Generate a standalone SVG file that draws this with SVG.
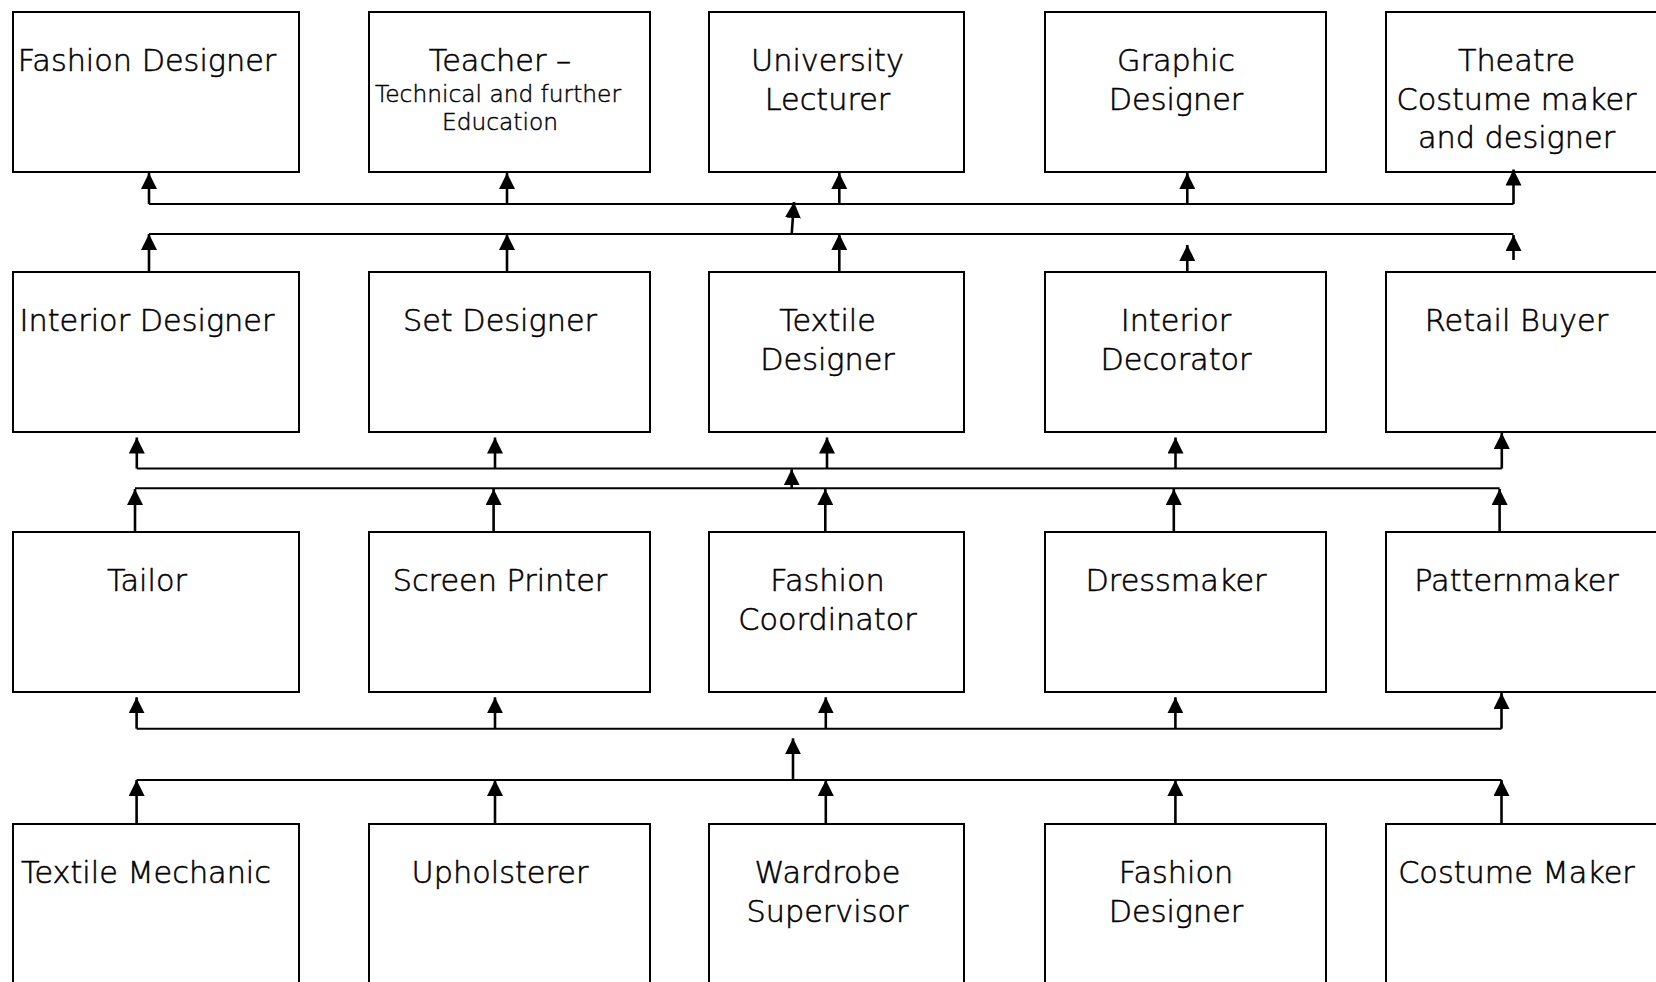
<svg xmlns="http://www.w3.org/2000/svg" width="1656" height="982" viewBox="0 0 1656 982">
<style>
.box{fill:#fff;stroke:#000;stroke-width:2}
.t{font-family:"Century Gothic","DejaVu Sans","Liberation Sans",sans-serif;font-size:30.3px;font-weight:300;fill:#000;stroke:#000;stroke-width:0.55;text-anchor:middle}
.s{font-size:23.3px;stroke-width:0.45}
.ln{fill:none;stroke:#000;stroke-width:2}
.ar{fill:none;stroke:#000;stroke-width:2.6;marker-end:url(#ah)}
</style>
<defs>
<marker id="ah" markerUnits="userSpaceOnUse" markerWidth="16" markerHeight="16" refX="15" refY="7.5" orient="auto" viewBox="0 0 15 15">
<path d="M0,0 L15,7.5 L0,15 z" fill="#000"/>
</marker>
</defs>
<rect width="1656" height="982" fill="#fff"/>

<g id="n-fashion-designer-top"><rect class="box" x="13" y="12" width="286" height="160"/><text class="t" x="147" y="71">Fashion Designer</text></g>
<g id="n-teacher"><rect class="box" x="369" y="12" width="281" height="160"/><text class="t" x="500" y="71">Teacher –</text><text class="t s" x="498" y="101.5">Technical and further</text><text class="t s" x="500" y="130">Education</text></g>
<g id="n-university-lecturer"><rect class="box" x="709" y="12" width="255" height="160"/><text class="t" x="827.5" y="71">University</text><text class="t" x="827.5" y="110">Lecturer</text></g>
<g id="n-graphic-designer"><rect class="box" x="1045" y="12" width="281" height="160"/><text class="t" x="1176" y="71">Graphic</text><text class="t" x="1176" y="110">Designer</text></g>
<g id="n-theatre"><rect class="box" x="1386" y="12" width="300" height="160"/><text class="t" x="1516.5" y="71">Theatre</text><text class="t" x="1516.5" y="110">Costume maker</text><text class="t" x="1516.5" y="148">and designer</text></g>

<g id="n-interior-designer"><rect class="box" x="13" y="272" width="286" height="160"/><text class="t" x="147" y="331">Interior Designer</text></g>
<g id="n-set-designer"><rect class="box" x="369" y="272" width="281" height="160"/><text class="t" x="500" y="331">Set Designer</text></g>
<g id="n-textile-designer"><rect class="box" x="709" y="272" width="255" height="160"/><text class="t" x="827.5" y="331">Textile</text><text class="t" x="827.5" y="370">Designer</text></g>
<g id="n-interior-decorator"><rect class="box" x="1045" y="272" width="281" height="160"/><text class="t" x="1176" y="331">Interior</text><text class="t" x="1176" y="370">Decorator</text></g>
<g id="n-retail-buyer"><rect class="box" x="1386" y="272" width="300" height="160"/><text class="t" x="1516.5" y="331">Retail Buyer</text></g>

<g id="n-tailor"><rect class="box" x="13" y="532" width="286" height="160"/><text class="t" x="147" y="591">Tailor</text></g>
<g id="n-screen-printer"><rect class="box" x="369" y="532" width="281" height="160"/><text class="t" x="500" y="591">Screen Printer</text></g>
<g id="n-fashion-coordinator"><rect class="box" x="709" y="532" width="255" height="160"/><text class="t" x="827.5" y="591">Fashion</text><text class="t" x="827.5" y="630">Coordinator</text></g>
<g id="n-dressmaker"><rect class="box" x="1045" y="532" width="281" height="160"/><text class="t" x="1176" y="591">Dressmaker</text></g>
<g id="n-patternmaker"><rect class="box" x="1386" y="532" width="300" height="160"/><text class="t" x="1516.5" y="591">Patternmaker</text></g>

<g id="n-textile-mechanic"><rect class="box" x="13" y="824" width="286" height="200"/><text class="t" x="146" y="883">Textile Mechanic</text></g>
<g id="n-upholsterer"><rect class="box" x="369" y="824" width="281" height="200"/><text class="t" x="500" y="883">Upholsterer</text></g>
<g id="n-wardrobe-supervisor"><rect class="box" x="709" y="824" width="255" height="200"/><text class="t" x="827.5" y="883">Wardrobe</text><text class="t" x="827.5" y="921.5">Supervisor</text></g>
<g id="n-fashion-designer-bottom"><rect class="box" x="1045" y="824" width="281" height="200"/><text class="t" x="1176" y="883">Fashion</text><text class="t" x="1176" y="921.5">Designer</text></g>
<g id="n-costume-maker"><rect class="box" x="1386" y="824" width="300" height="200"/><text class="t" x="1516.5" y="883">Costume Maker</text></g>

<g id="connectors">
<path class="ln" d="M149,204 H1513.5"/>
<path class="ln" d="M149,234 H1513.5"/>
<path class="ln" d="M136.8,468.5 H1501.8"/>
<path class="ln" d="M135,488.3 H1499.6"/>
<path class="ln" d="M136.6,728.7 H1501.5"/>
<path class="ln" d="M136.6,780 H1501.5"/>

<path class="ar" d="M149,204 V173"/>
<path class="ar" d="M507,204 V173"/>
<path class="ar" d="M839.3,204 V173"/>
<path class="ar" d="M1187.3,204 V173"/>
<path class="ar" d="M1513.5,204 V169.5"/>

<path class="ar" d="M149,272 V234"/>
<path class="ar" d="M507,272 V234"/>
<path class="ar" d="M839.3,272 V234"/>
<path class="ar" d="M1187.3,272 V245"/>
<path class="ar" d="M1513.5,260 V235"/>
<path class="ar" d="M791.7,234 L794,202"/>

<path class="ar" d="M136.8,468.5 V437.5"/>
<path class="ar" d="M495,468.5 V437.5"/>
<path class="ar" d="M827,468.5 V437.5"/>
<path class="ar" d="M1175.5,468.5 V437.5"/>
<path class="ar" d="M1501.8,468.5 V433"/>

<path class="ar" d="M135,532 V489"/>
<path class="ar" d="M493.6,532 V489"/>
<path class="ar" d="M825.3,532 V489"/>
<path class="ar" d="M1173.8,532 V489"/>
<path class="ar" d="M1499.6,532 V489"/>
<path class="ar" d="M791.7,488.3 V469.3"/>

<path class="ar" d="M136.6,728.7 V697.3"/>
<path class="ar" d="M495,728.7 V697.3"/>
<path class="ar" d="M825.8,728.7 V697.3"/>
<path class="ar" d="M1175.4,728.7 V697.3"/>
<path class="ar" d="M1501.5,728.7 V693"/>

<path class="ar" d="M136.6,824 V780"/>
<path class="ar" d="M495,824 V780"/>
<path class="ar" d="M825.8,824 V780"/>
<path class="ar" d="M1175.4,824 V780"/>
<path class="ar" d="M1501.5,824 V780"/>
<path class="ar" d="M793,780 V738.3"/>
</g>
</svg>
